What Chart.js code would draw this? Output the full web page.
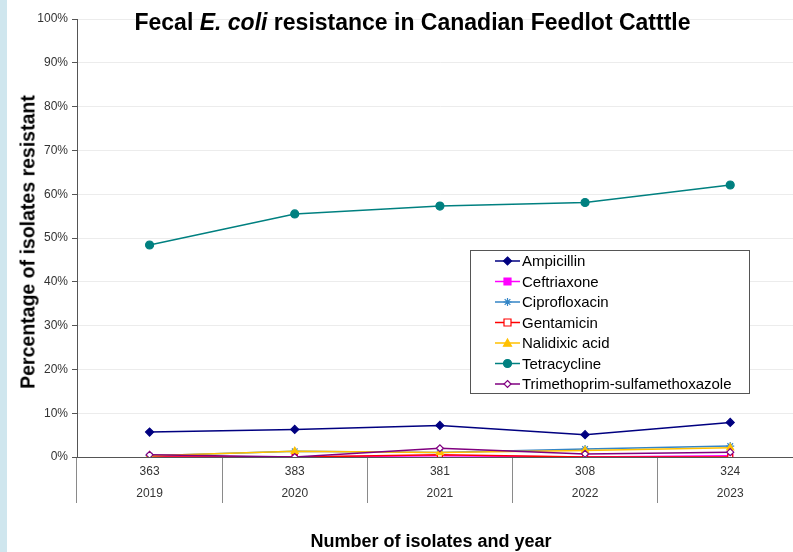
<!DOCTYPE html>
<html>
<head>
<meta charset="utf-8">
<script src="https://cdn.jsdelivr.net/npm/chart.js@4/dist/chart.umd.min.js"></script>
<style>
  html, body { margin: 0; padding: 0; background: #fff; overflow: hidden; width: 793px; height: 552px; }
  #wrap { position: absolute; left: 0; top: 0; width: 808px; height: 552px; }
  #strip { position: absolute; left: 0; top: 0; width: 7px; height: 552px; background: #cfe6ee; }
  .t { position: absolute; font-family: "Liberation Sans", Arial, sans-serif; font-weight: bold; color: #000; white-space: nowrap; }
  #title { left: 0; width: 825px; text-align: center; top: 8px; font-size: 23px; line-height: 28px; }
  #ytitle { left: 28px; top: 242px; font-size: 19.5px; transform: translate(-50%, -50%) rotate(-90deg); }
  #xtitle { left: 431px; top: 541px; font-size: 18px; transform: translate(-50%, -50%); }
</style>
</head>
<body>
<div id="wrap"><canvas id="c" width="808" height="552"></canvas></div>
<div id="strip"></div>
<div class="t" id="title">Fecal <i>E. coli</i> resistance in Canadian Feedlot Catttle</div>
<div class="t" id="ytitle">Percentage of isolates resistant</div>
<div class="t" id="xtitle">Number of isolates and year</div>
<script>
// Isolates tested and survey year for each column
const isolates = ['363', '383', '381', '308', '324'];
const years = ['2019', '2020', '2021', '2022', '2023'];

// Percentage of isolates resistant, per antimicrobial
const ampicillin = [5.7, 6.3, 7.2, 5.1, 7.9];
const ceftriaxone = [0.0, 0.0, 0.3, 0.0, 0.3];
const ciprofloxacin = [0.3, 1.3, 1.0, 1.8, 2.5];
const gentamicin = [0.0, 0.0, 0.5, 0.0, 0.0];
const nalidixicAcid = [0.3, 1.3, 1.0, 1.5, 2.1];
const tetracycline = [48.4, 55.5, 57.3, 58.1, 62.1];
const trimethoprimSulfa = [0.5, 0.0, 2.0, 0.7, 1.1];

// Y-axis tick values
const yTicks = [0, 10, 20, 30, 40, 50, 60, 70, 80, 90, 100];

const series = [
  { label: 'Ampicillin', data: ampicillin, color: '#000080', style: 'rectRot', r: 4, fill: true },
  { label: 'Ceftriaxone', data: ceftriaxone, color: '#ff00ff', style: 'rect', r: 3.5, fill: true },
  { label: 'Ciprofloxacin', data: ciprofloxacin, color: '#3385c6', style: 'star', r: 4, fill: false },
  { label: 'Gentamicin', data: gentamicin, color: '#ff0000', style: 'rect', r: 3.5, fill: false },
  { label: 'Nalidixic acid', data: nalidixicAcid, color: '#ffc000', style: 'triangle', r: 4, fill: true },
  { label: 'Tetracycline', data: tetracycline, color: '#008080', style: 'circle', r: 4, fill: true },
  { label: 'Trimethoprim-sulfamethoxazole', data: trimethoprimSulfa, color: '#800080', style: 'rectRot', r: 3.5, fill: false }
];

const labels = isolates.map((n, i) => [n, years[i]]);

function drawShape(ctx, style, r, x, y) {
  if (style === 'circle') { ctx.arc(x, y, r, 0, Math.PI * 2); }
  else if (style === 'rect') { ctx.rect(x - r, y - r, 2 * r, 2 * r); }
  else if (style === 'rectRot') { ctx.moveTo(x, y - r); ctx.lineTo(x + r, y); ctx.lineTo(x, y + r); ctx.lineTo(x - r, y); ctx.closePath(); }
  else if (style === 'triangle') { ctx.moveTo(x, y - r); ctx.lineTo(x + r, y + r * 0.8); ctx.lineTo(x - r, y + r * 0.8); ctx.closePath(); }
  else if (style === 'star') {
    for (let k = 0; k < 4; k++) {
      const a = k * Math.PI / 4;
      ctx.moveTo(x - Math.cos(a) * r, y - Math.sin(a) * r);
      ctx.lineTo(x + Math.cos(a) * r, y + Math.sin(a) * r);
    }
  }
}

// Boxed legend placed inside the plot area
const boxLegend = {
  id: 'boxLegend',
  afterDraw(chart) {
    const ctx = chart.ctx;
    const x0 = 470.5, y0 = 250.5, w = 279, h = 143;
    ctx.save();
    ctx.fillStyle = '#fff';
    ctx.fillRect(x0, y0, w, h);
    ctx.strokeStyle = '#555';
    ctx.lineWidth = 1;
    ctx.strokeRect(x0, y0, w, h);
    ctx.font = '15px "Liberation Sans", Arial, sans-serif';
    ctx.textBaseline = 'middle';
    series.forEach((s, i) => {
      const y = 261 + i * 20.5;
      ctx.strokeStyle = s.color;
      ctx.lineWidth = 1.5;
      ctx.beginPath();
      ctx.moveTo(495, y);
      ctx.lineTo(520, y);
      ctx.stroke();
      ctx.lineWidth = 1.2;
      ctx.fillStyle = s.fill ? s.color : '#fff';
      ctx.beginPath();
      drawShape(ctx, s.style, s.r, 507.5, y);
      if (s.style !== 'star') ctx.fill();
      ctx.stroke();
      ctx.fillStyle = '#000';
      ctx.fillText(s.label, 522, y + 1);
    });
    ctx.restore();
  }
};

new Chart(document.getElementById('c'), {
  type: 'line',
  data: {
    labels: labels,
    datasets: series.map((s, i) => ({
      label: s.label,
      data: s.data,
      borderColor: s.color,
      backgroundColor: s.fill ? s.color : '#ffffff',
      pointBorderColor: s.color,
      pointBackgroundColor: s.fill ? s.color : '#ffffff',
      pointStyle: s.style,
      pointRadius: s.r,
      pointBorderWidth: 1.2,
      borderWidth: 1.5,
      tension: 0,
      order: series.length - i
    }))
  },
  options: {
    responsive: false,
    animation: false,
    devicePixelRatio: 1,
    layout: { padding: { top: 19, right: 4, left: 0, bottom: 0 } },
    plugins: { legend: { display: false }, tooltip: { enabled: false } },
    scales: {
      x: {
        offset: true,
        grid: { offset: true, drawOnChartArea: false, drawTicks: true, tickLength: 46, color: '#8a8a8a', lineWidth: 1 },
        border: { display: true, color: '#555', width: 1 },
        ticks: {
          padding: -42,
          maxRotation: 0,
          color: '#333',
          font: { family: '"Liberation Sans", Arial, sans-serif', size: 12, lineHeight: '22px' }
        },
        afterFit(scale) { scale.height = 95; }
      },
      y: {
        min: 0,
        max: 100,
        afterBuildTicks(scale) { scale.ticks = yTicks.map(v => ({ value: v })); },
        grid: { color: '#ececec', tickColor: '#555', tickLength: 5, drawTicks: true },
        border: { display: true, color: '#555', width: 1 },
        ticks: {
          padding: 4,
          color: '#333',
          font: { family: '"Liberation Sans", Arial, sans-serif', size: 12 },
          callback: v => v + '%'
        },
        afterFit(scale) { scale.width = 77; }
      }
    }
  },
  plugins: [boxLegend]
});
</script>
</body>
</html>
